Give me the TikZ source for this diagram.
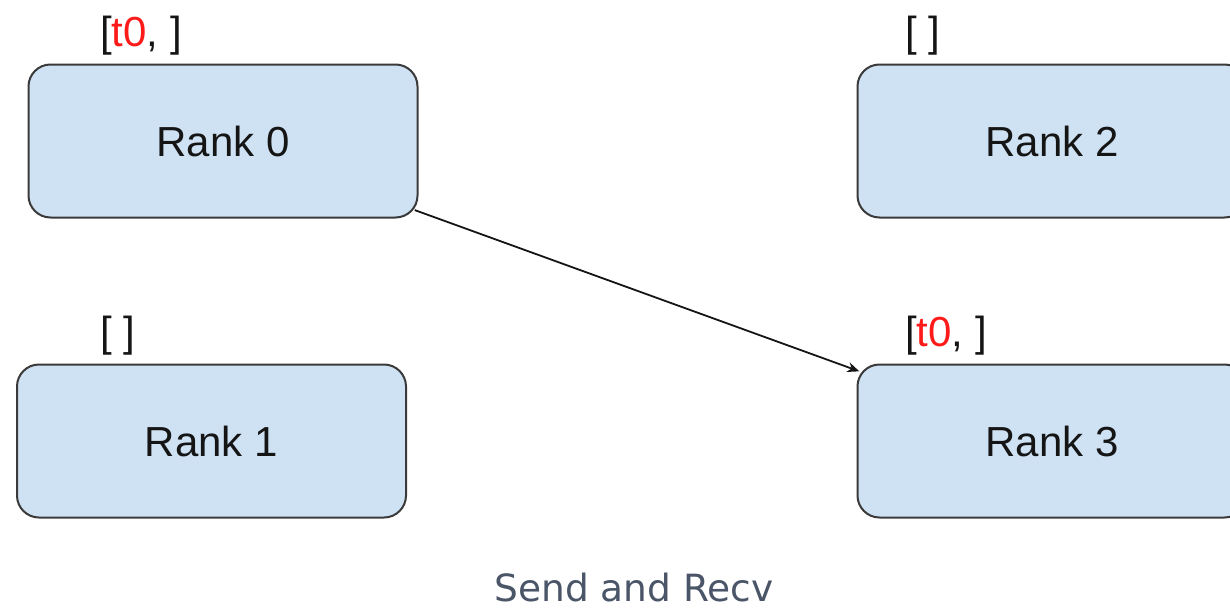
\documentclass[tikz,border=0pt]{standalone}
\usepackage{fontspec}
\setmainfont{Liberation Sans}
\newfontfamily\captionfont{DejaVu Sans}
\usetikzlibrary{arrows.meta}

\definecolor{boxfill}{HTML}{CFE2F3}
\definecolor{boxline}{HTML}{3A3A3A}
\definecolor{inktext}{HTML}{151515}
\definecolor{tokred}{HTML}{FF1A1A}
\definecolor{capgray}{HTML}{4A5568}

\tikzset{
  rankbox/.style={draw=boxline, line width=2pt, fill=boxfill,
    rounded corners=22pt, minimum width=389pt, minimum height=153pt,
    inner sep=0pt, text=inktext, font=\fontsize{42}{50}\selectfont},
  buflabel/.style={anchor=base west, inner sep=0pt, text=inktext,
    font=\fontsize{42}{50}\selectfont},
  sendarrow/.style={draw=inktext, line width=1.8pt,
    -{Stealth[length=12pt,width=10pt]}, shorten <=-4pt, shorten >=-3pt},
  capstyle/.style={anchor=base, inner sep=0pt, text=capgray,
    font=\captionfont\fontsize{37.5}{45}\selectfont}
}

\begin{document}
\begin{tikzpicture}[x=1pt,y=-1pt]
  \useasboundingbox (0,0) rectangle (1230,610);

  % four ranks
  \node[rankbox] (r0) at (223,141)   {Rank 0};
  \node[rankbox] (r2) at (1052,141)  {Rank 2};
  \node[rankbox] (r1) at (211.5,441) {Rank 1};
  \node[rankbox] (r3) at (1052,441)  {Rank 3};

  % buffer contents above each rank
  \node[buflabel] (b0) at (100,46)  {[\textcolor{tokred}{t0}, ]};
  \node[buflabel] (b2) at (905,46)  {[ ]};
  \node[buflabel] (b1) at (100,346) {[ ]};
  \node[buflabel] (b3) at (905,346) {[\textcolor{tokred}{t0}, ]};

  % point-to-point transfer
  \draw[sendarrow] (r0) -- (r3);

  \node[capstyle] (cap) at (634,601) {Send and Recv};
\end{tikzpicture}
\end{document}
